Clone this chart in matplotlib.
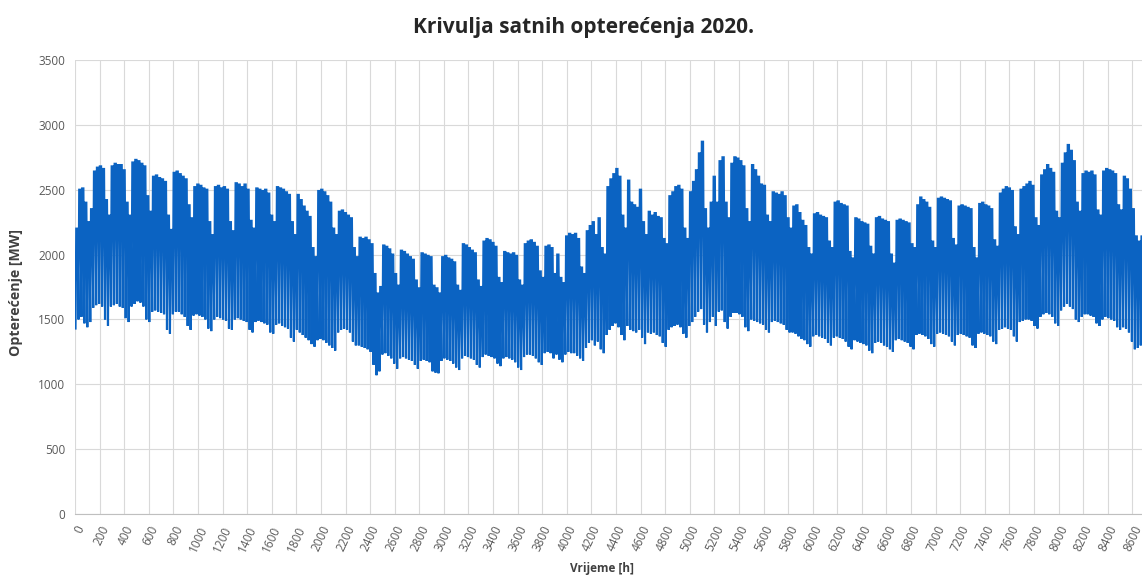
import numpy as np
import matplotlib.pyplot as plt

# daily peak / night minimum [MW], 2020 (Jan 1 = Wed)
# one row per week (Mon-Sun), first row Jan 1-5, last row Dec 28-31
daily_max = [
    2200, 2500, 2510, 2400, 2250,
    2350, 2640, 2670, 2680, 2660, 2420, 2300,
    2680, 2700, 2690, 2690, 2650, 2400, 2300,
    2710, 2730, 2720, 2700, 2680, 2450, 2330,
    2600, 2610, 2590, 2580, 2560, 2300, 2190,
    2630, 2640, 2620, 2600, 2580, 2380, 2280,
    2520, 2540, 2530, 2510, 2500, 2250, 2150,
    2520, 2530, 2510, 2520, 2500, 2250, 2180,
    2550, 2540, 2520, 2540, 2500, 2260, 2200,
    2510, 2500, 2490, 2500, 2470, 2300, 2250,
    2520, 2510, 2500, 2480, 2460, 2250, 2150,
    2460, 2420, 2370, 2330, 2290, 2050, 1980,
    2490, 2500, 2480, 2450, 2400, 2200, 2150,
    2330, 2340, 2320, 2300, 2280, 2050, 1980,
    2130, 2120, 2130, 2110, 2080, 1850, 1700,
    1750, 2070, 2060, 2040, 2000, 1850, 1760,
    2030, 2020, 2000, 1980, 1960, 1800, 1740,
    2010, 2000, 1990, 1980, 1760, 1740, 1700,
    1980, 1990, 1970, 1960, 1940, 1760, 1720,
    2080, 2070, 2050, 2030, 2010, 1800, 1750,
    2100, 2120, 2110, 2090, 2060, 1820, 1780,
    2020, 2010, 2000, 2010, 1990, 1800, 1760,
    2080, 2100, 2110, 2090, 2060, 1870, 1820,
    2060, 2070, 2050, 1850, 2000, 1820, 1780,
    2140, 2160, 2150, 2160, 2120, 1900, 1850,
    2180, 2220, 2250, 2150, 2280, 2050, 2000,
    2520, 2580, 2620, 2660, 2600, 2300, 2200,
    2570, 2400, 2380, 2360, 2500, 2250, 2150,
    2330, 2300, 2320, 2290, 2280, 2120, 2080,
    2450, 2480, 2520, 2530, 2500, 2200, 2120,
    2480, 2560, 2650, 2780, 2870, 2350, 2200,
    2400, 2600, 2400, 2720, 2750, 2400, 2280,
    2700, 2750, 2740, 2720, 2680, 2350, 2250,
    2690, 2650, 2600, 2540, 2530, 2300, 2250,
    2480, 2470, 2460, 2480, 2450, 2280, 2200,
    2370, 2380, 2320, 2260, 2220, 2050, 2000,
    2310, 2320, 2300, 2290, 2280, 2100, 2050,
    2400, 2410, 2390, 2380, 2370, 2020, 1970,
    2280, 2270, 2250, 2240, 2230, 2060, 2000,
    2280, 2290, 2270, 2260, 2250, 2000, 1930,
    2260, 2270, 2260, 2250, 2240, 2080, 2050,
    2380, 2440, 2420, 2400, 2360, 2100, 2050,
    2430, 2440, 2430, 2420, 2410, 2120, 2070,
    2370, 2380, 2370, 2360, 2350, 2050, 1970,
    2390, 2400, 2380, 2370, 2350, 2110, 2060,
    2470, 2500, 2520, 2510, 2490, 2210, 2150,
    2500, 2520, 2540, 2560, 2530, 2280, 2220,
    2610, 2650, 2690, 2660, 2630, 2330, 2280,
    2700, 2780, 2845, 2800, 2720, 2400, 2330,
    2620, 2640, 2630, 2640, 2610, 2340, 2300,
    2640, 2660, 2650, 2640, 2620, 2380, 2340,
    2600, 2580, 2500, 2350, 2140, 2100, 2140,
    2300, 2320, 2300, 2150,
]

daily_min = [
    1430, 1500, 1520, 1470, 1440,
    1480, 1590, 1610, 1620, 1600, 1500, 1450,
    1600, 1610, 1620, 1600, 1590, 1510, 1480,
    1600, 1620, 1640, 1630, 1600, 1500, 1480,
    1560, 1570, 1560, 1550, 1540, 1420, 1390,
    1540, 1560, 1560, 1540, 1520, 1450, 1420,
    1530, 1540, 1530, 1520, 1500, 1430, 1410,
    1500, 1520, 1510, 1500, 1490, 1430, 1420,
    1500, 1510, 1500, 1490, 1480, 1420, 1400,
    1480, 1490, 1480, 1470, 1460, 1400, 1390,
    1460, 1470, 1450, 1440, 1430, 1360, 1330,
    1420, 1400, 1380, 1360, 1340, 1310, 1290,
    1340, 1350, 1340, 1320, 1300, 1280, 1260,
    1400, 1420, 1430, 1420, 1400, 1330, 1300,
    1300, 1290, 1280, 1270, 1250, 1150, 1070,
    1100, 1230, 1240, 1220, 1200, 1160, 1120,
    1200, 1210, 1200, 1190, 1180, 1150, 1120,
    1180, 1190, 1180, 1170, 1100, 1090, 1085,
    1180, 1200, 1190, 1180, 1160, 1130, 1110,
    1200, 1220, 1210, 1200, 1190, 1150, 1130,
    1210, 1230, 1220, 1210, 1200, 1160, 1140,
    1200, 1210, 1200, 1190, 1170, 1130, 1110,
    1210, 1230, 1230, 1220, 1200, 1170, 1150,
    1240, 1250, 1240, 1200, 1230, 1190, 1170,
    1230, 1250, 1240, 1240, 1220, 1200, 1180,
    1280, 1320, 1340, 1300, 1330, 1270, 1240,
    1380, 1420, 1450, 1470, 1440, 1380, 1340,
    1450, 1420, 1410, 1400, 1420, 1360, 1310,
    1400, 1390, 1400, 1380, 1370, 1320, 1290,
    1420, 1440, 1450, 1460, 1440, 1390, 1360,
    1450, 1480, 1520, 1560, 1580, 1460, 1400,
    1480, 1520, 1450, 1560, 1570, 1480, 1430,
    1520, 1550, 1550, 1540, 1520, 1440, 1410,
    1500, 1490, 1480, 1470, 1460, 1420, 1400,
    1480, 1490, 1480, 1470, 1460, 1420, 1400,
    1400, 1390, 1370, 1350, 1340, 1310, 1290,
    1370, 1380, 1370, 1360, 1350, 1320, 1300,
    1360, 1370, 1360, 1350, 1330, 1290, 1270,
    1340, 1330, 1320, 1310, 1300, 1260, 1240,
    1320, 1330, 1320, 1300, 1290, 1270, 1250,
    1340, 1350, 1340, 1330, 1320, 1290, 1270,
    1380, 1390, 1380, 1370, 1350, 1310, 1290,
    1390, 1400, 1390, 1380, 1370, 1330, 1300,
    1380, 1390, 1380, 1370, 1360, 1300, 1280,
    1390, 1400, 1390, 1380, 1370, 1330, 1310,
    1420, 1430, 1440, 1430, 1420, 1370, 1330,
    1480, 1490, 1500, 1500, 1490, 1450, 1430,
    1520, 1540, 1550, 1540, 1520, 1470, 1450,
    1570, 1600, 1620, 1600, 1580, 1500, 1480,
    1520, 1540, 1540, 1530, 1520, 1470, 1450,
    1500, 1520, 1510, 1500, 1490, 1440, 1420,
    1440, 1430, 1400, 1330, 1270, 1280, 1300,
    1340, 1350, 1340, 1300,
]

title = "Krivulja satnih opterećenja 2020."
xlabel = "Vrijeme [h]"
ylabel = "Opterećenje [MW]"
x_ticks = list(range(0, 8601, 200))
y_ticks = list(range(0, 3501, 500))

plt.rcParams['font.family'] = ['Open Sans', 'DejaVu Sans']

# night minimum around 04h, daytime plateau 10h-20h
day_start = np.arange(len(daily_max)) * 24
hours = np.column_stack([day_start + 4, day_start + 10, day_start + 20]).ravel()
load = np.column_stack([daily_min, daily_max, daily_max]).ravel()

fig = plt.figure(figsize=(11.42, 5.81), dpi=100)
# plot area runs past the right edge, as in the cropped original
ax = fig.add_axes([0.0657, 0.1153, 0.9457, 0.7814])

ax.plot(hours, load, color='#0B63C2', linewidth=1.55, solid_joinstyle='miter')

ax.set_xlim(0, 8784)
ax.set_ylim(0, 3500)
ax.set_xticks(x_ticks)
ax.set_xticklabels([str(t) for t in x_ticks], rotation=65, ha='right',
                   va='top', rotation_mode='anchor', fontsize=8.5, color='#595959')
ax.set_yticks(y_ticks)
ax.set_yticklabels([str(t) for t in y_ticks], fontsize=8.5, color='#595959')
ax.tick_params(axis='both', length=0, pad=7)

ax.grid(True, color='#d9d9d9', linewidth=0.8)
ax.set_axisbelow(True)
for side in ['top', 'right', 'left']:
    ax.spines[side].set_visible(False)
ax.spines['bottom'].set_color('#bfbfbf')

fig.text(0.511, 0.952, title, ha='center', va='center', fontsize=15,
         fontweight='bold', color='#262626')
fig.text(0.527, 0.010, xlabel, ha='center', va='bottom', fontsize=8.5,
         fontweight='bold', color='#404040')
fig.text(0.008, 0.496, ylabel, ha='left', va='center', rotation=90,
         fontsize=10.2, fontweight='bold', color='#404040')

fig.savefig('out.png', dpi=100)
